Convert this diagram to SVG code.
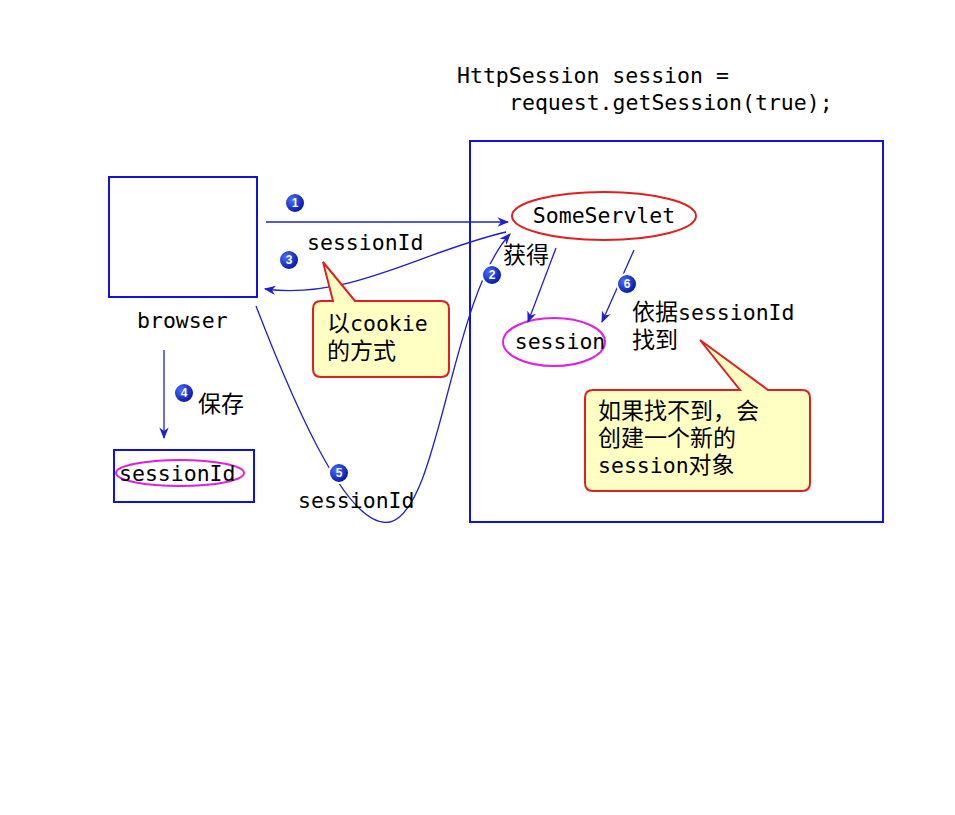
<svg xmlns="http://www.w3.org/2000/svg" width="955" height="815" viewBox="0 0 955 815">
<defs>
<marker id="ah" viewBox="0 0 10 10" refX="9" refY="5" markerWidth="9" markerHeight="9" orient="auto"><path d="M0,1 L10,5 L0,9 L3,5 Z" fill="#1f1fd0"/></marker>
<radialGradient id="bg" cx="0.35" cy="0.35" r="0.7"><stop offset="0" stop-color="#4a6cff"/><stop offset="1" stop-color="#0010a0"/></radialGradient>
</defs>
<style>
.t{font-family:"DejaVu Sans Mono","Noto Sans CJK SC",monospace;font-size:21.5px;fill:#000}
.k{font-size:23px}
.box{fill:#fff;stroke:#1010e0;stroke-width:2}
.c{fill:none;stroke:#1f1fd0;stroke-width:1.3}
.n circle{fill:url(#bg);stroke:#fff;stroke-width:2}
.n text{font-family:"Liberation Sans",sans-serif;font-size:12px;font-weight:bold;fill:#fff;text-anchor:middle}
.co{fill:#ffffc4;stroke:#e02020;stroke-width:2}
</style>
<rect width="955" height="815" fill="#fff"/>
<text class="t" x="457" y="83">HttpSession session =</text>
<text class="t" x="509" y="110">request.getSession(true);</text>
<g id="server"><rect class="box" x="470" y="141" width="413" height="381"/></g>
<g id="browser"><rect class="box" x="109" y="177" width="148" height="120"/><text class="t" x="137" y="328">browser</text></g>
<g id="someservlet"><ellipse cx="604" cy="216" rx="92" ry="24" fill="#fff" stroke="#e02020" stroke-width="2"/><text class="t" x="604" y="223" text-anchor="middle">SomeServlet</text></g>
<g id="session"><ellipse cx="554" cy="342" rx="51" ry="24" fill="#fff" stroke="#e020e0" stroke-width="2"/><text class="t" x="560" y="349" text-anchor="middle">session</text></g>
<g id="stored"><rect class="box" x="114" y="450" width="140" height="52"/><ellipse cx="180" cy="473" rx="64" ry="13" fill="none" stroke="#e020e0" stroke-width="2"/><text class="t" x="119" y="481">sessionId</text></g>
<g id="connectors">
<path class="c" d="M266,222 L508,222" marker-end="url(#ah)"/>
<path class="c" d="M506,232 C420,252 350,300 265,289" marker-end="url(#ah)"/>
<path class="c" d="M256,306 C300,420 350,530 390,522 C440,510 450,300 510,234" marker-end="url(#ah)"/>
<path class="c" d="M556,248 L528,322" marker-end="url(#ah)"/>
<path class="c" d="M634,250 L602,322" marker-end="url(#ah)"/>
<path class="c" d="M164,350 L164,438" marker-end="url(#ah)"/>
</g>
<g class="n"><circle cx="295" cy="203" r="10"/><text x="295" y="207">1</text></g>
<g class="n"><circle cx="492" cy="275" r="10"/><text x="492" y="279">2</text></g>
<g class="n"><circle cx="289" cy="260" r="10"/><text x="289" y="264">3</text></g>
<g class="n"><circle cx="184" cy="393" r="10"/><text x="184" y="397">4</text></g>
<g class="n"><circle cx="339" cy="473" r="10"/><text x="339" y="477">5</text></g>
<g class="n"><circle cx="627" cy="284" r="10"/><text x="627" y="288">6</text></g>
<text class="t" x="307" y="250">sessionId</text>
<text class="t k" x="503" y="263">获得</text>
<text class="t" x="632" y="320"><tspan class="k">依据</tspan>sessionId</text>
<text class="t k" x="632" y="348">找到</text>
<text class="t k" x="198" y="412">保存</text>
<text class="t" x="298" y="508">sessionId</text>
<g id="callout1"><path class="co" d="M321,301 L333,301 L323,262 L355,301 L441,301 Q449,301 449,309 L449,369 Q449,377 441,377 L321,377 Q313,377 313,369 L313,309 Q313,301 321,301 Z"/><text class="t" x="327" y="331"><tspan class="k">以</tspan>cookie</text><text class="t k" x="327" y="359">的方式</text></g>
<g id="callout2"><path class="co" d="M593,390 L740,390 L700,340 L768,390 L802,390 Q810,390 810,398 L810,483 Q810,491 802,491 L593,491 Q585,491 585,483 L585,398 Q585,390 593,390 Z"/><text class="t k" x="598" y="419">如果找不到，会</text><text class="t k" x="598" y="446">创建一个新的</text><text class="t" x="598" y="473">session<tspan class="k">对象</tspan></text></g>
</svg>
